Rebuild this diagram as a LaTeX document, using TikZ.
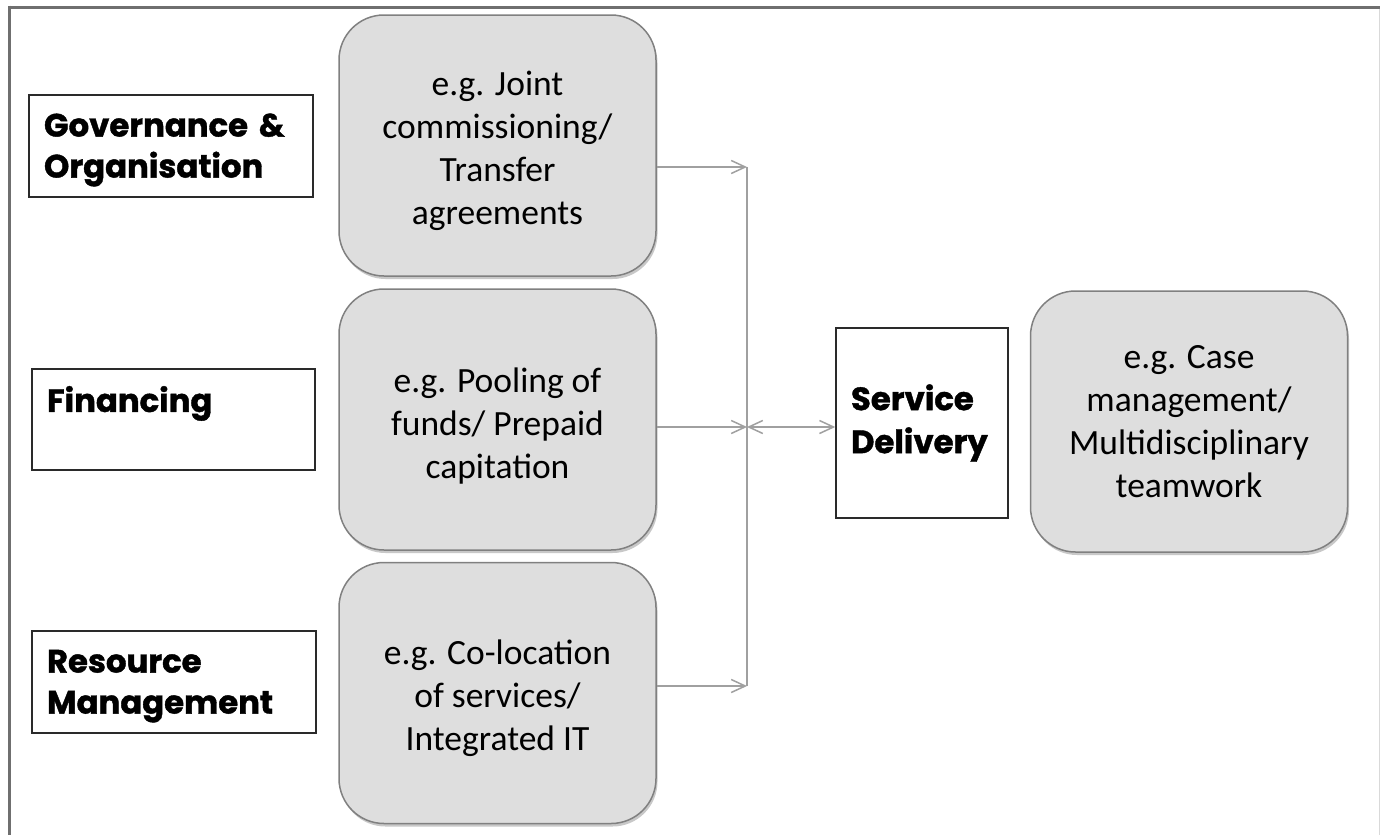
\documentclass[tikz,border=0pt]{standalone}
\usepackage{fontspec}
\setmainfont{Carlito}
\newfontfamily\futura{Poppins}[BoldFeatures={FakeBold=1.2}]
\usetikzlibrary{arrows.meta,shadows}
\definecolor{boxfill}{HTML}{DEDEDE}
\definecolor{boxedge}{HTML}{808080}
\definecolor{catedge}{HTML}{2A2A2A}
\definecolor{linegray}{HTML}{A0A0A0}
\definecolor{framegray}{HTML}{6F6F6F}
\newcommand\egstrut{\rule{0pt}{35pt}}
\begin{document}
\begin{tikzpicture}[x=1pt,y=-1pt,
  egbox/.style={draw=boxedge, line width=1.5pt, fill=boxfill, rounded corners=45pt,
    minimum width=317pt, minimum height=261pt, align=center, inner sep=0pt,
    font=\fontsize{35.5}{43}\selectfont, text=black,
    drop shadow={shadow xshift=1.5pt, shadow yshift=-3pt, opacity=0.3, fill=black!70}},
  catbox/.style={draw=catedge, line width=1.5pt, fill=white, inner xsep=15pt, inner ysep=0pt,
    align=left, font=\futura\bfseries\fontsize{32.3}{41}\selectfont, text=black},
  conn/.style={draw=linegray, line width=1.5pt},
  tip/.style={-{Straight Barb[length=14pt,width=13pt]}},
  dtip/.style={{Straight Barb[length=14pt,width=13pt]}-{Straight Barb[length=14pt,width=13pt]}}]
\useasboundingbox (0,0) rectangle (1380,835);
\fill[white] (0,0) rectangle (1380,835);
% frame
\draw[framegray, line width=3pt] (8,7) -- (1380,7);
\draw[framegray, line width=3pt] (9,5.5) -- (9,835);
\draw[black!15, line width=1pt] (1379,8.5) -- (1379,835);
% category boxes
\node[catbox, minimum width=284pt, minimum height=102pt, text width=254pt] (gov) at (171,146) {\rule{0pt}{31pt}Governance \&\\Organisation};
\node[catbox, minimum width=283pt, minimum height=101pt, text width=253pt] (fin) at (173.5,419.5) {Financing\\\mbox{}};
\node[catbox, minimum width=284pt, minimum height=102pt, text width=254pt] (res) at (174,682) {\rule{0pt}{31pt}Resource\\Management};
\node[catbox, minimum width=172pt, minimum height=190pt, text width=142pt] (sd) at (922,423) {Service\\[2pt]Delivery};
% example boxes
\node[egbox] (ge) at (497.5,145.5) {\egstrut e.g. Joint\\commissioning/\\Transfer\\agreements};
\node[egbox] (fe) at (497.5,419.5) {\rule{0pt}{37pt}e.g. Pooling of\\funds/ Prepaid\\capitation};
\node[egbox] (re) at (497.5,693) {\egstrut e.g. Co-location\\of services/\\Integrated IT};
\node[egbox] (se) at (1189,421.5) {e.g. Case\\management/\\Multidisciplinary\\teamwork};
% connectors
\coordinate (jt) at (747,167);
\coordinate (jm) at (747,427);
\coordinate (jb) at (747,686);
\draw[conn] (jt) -- (jb);
\draw[conn,tip] (ge.east |- jt) -- (jt);
\draw[conn,tip] (fe.east |- jm) -- (jm);
\draw[conn,tip] (re.east |- jb) -- (jb);
\draw[conn,dtip] (jm) -- (sd.west |- jm);
\end{tikzpicture}
\end{document}
